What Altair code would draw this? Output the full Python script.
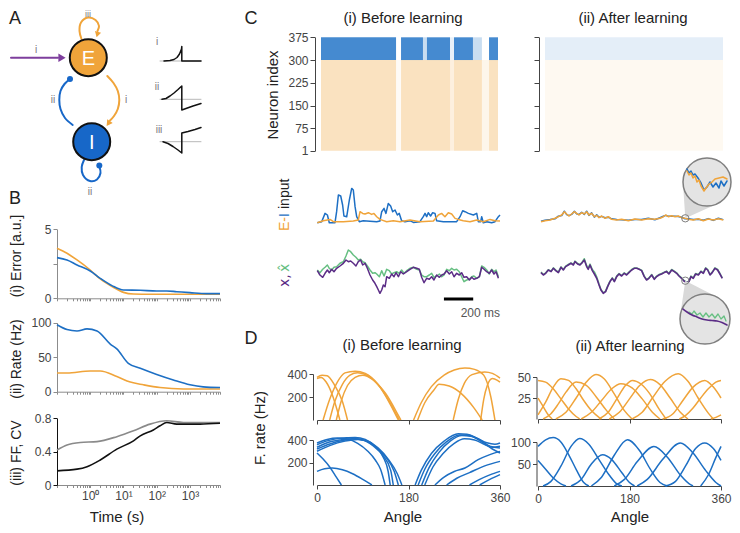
import altair as alt
import pandas as pd

W, H = 724, 517
FONT = "Liberation Sans"
ORANGE = "#F0A43A"
BLUE = "#1D6FC4"
NODE_BLUE = "#1767C8"
PURPLE = "#5B2C86"
GREEN = "#66BF82"
INPUT_PURPLE = "#7E3F9D"
TXT = "#222222"
AXC = "#444444"
LAXC = "#8C8C8C"

# ---------------- Panel B data ----------------
ERR_T_I = [0.1, 0.2, 0.4, 1, 2, 4.5, 10, 32, 100, 200, 398, 1000, 3162, 8000]
ERR_I = [2.95, 2.78, 2.42, 1.98, 1.45, 0.92, 0.60, 0.58, 0.53, 0.53, 0.48, 0.41, 0.34, 0.34]
ERR_T_E = [0.1, 0.2, 0.4, 1, 2, 4.5, 10, 20, 63, 8000]
ERR_E = [3.62, 3.26, 2.78, 2.05, 1.40, 0.85, 0.43, 0.31, 0.29, 0.29]
RATE_T_I = [0.1, 0.2, 0.4, 0.8, 1.6, 4, 6.3, 14, 32, 100, 316, 1000, 2500, 8000]
RATE_I = [97, 90, 88, 91, 88, 69, 62, 41, 34, 25, 17, 10, 7, 6]
RATE_T_E = [0.1, 0.2, 1, 2, 6.3, 16, 40, 126, 630, 8000]
RATE_E = [27, 27, 30, 30, 22, 14, 10, 6, 4, 4]
FF_T = [0.1, 0.2, 0.5, 1.6, 6.3, 20, 63, 200, 630, 8000]
FF = [0.42, 0.48, 0.51, 0.52, 0.58, 0.65, 0.73, 0.77, 0.75, 0.75]
CV_T = [0.1, 0.4, 0.8, 2, 6.3, 20, 32, 79, 126, 200, 400, 2000, 8000]
CV = [0.17, 0.19, 0.22, 0.30, 0.43, 0.53, 0.59, 0.66, 0.71, 0.75, 0.73, 0.73, 0.74]
B_DECADES = [1, 10, 100, 1000]
B_DECADE_LABELS = ["10⁰", "10¹", "10²", "10³"]
B_TICKS = [round(m * 10 ** k, 4) for k in range(-1, 4) for m in range(1, 10) if m * 10 ** k <= 8000]

# ---------------- Panel C raster (spike density, segments in ms) ----------------
E_NEURONS = (1, 300)
I_NEURONS = (300, 375)
RASTER_TICKS = [1, 75, 150, 225, 300, 375]
RB_I_START = [0, 527, 562, 716, 744, 906, 934, 1067, 1130, 1180]
RB_I_END = [527, 562, 716, 744, 906, 934, 1067, 1130, 1180, 1243]
RB_I_DENS = [0.85, 0.0, 0.85, 0.25, 0.85, 0.1, 0.85, 0.25, 0.0, 0.85]
RB_E_START = [0, 527, 562, 906, 934, 1130, 1180]
RB_E_END = [527, 562, 906, 934, 1130, 1180, 1243]
RB_E_DENS = [0.32, 0.04, 0.32, 0.16, 0.32, 0.1, 0.32]
RA_I_START, RA_I_END, RA_I_DENS = [0], [1250], [0.12]
RA_E_START, RA_E_END, RA_E_DENS = [0], [1250], [0.07]

# ---------------- Panel C traces ----------------
T_EI_B_I = [2, 32, 55, 71, 84, 123, 134, 146, 162, 175, 184, 203, 221, 237, 248, 260, 271, 289, 316, 408,
            430, 442, 458, 471, 487, 503, 517, 533, 549, 562, 578, 601, 635, 658, 703, 726, 738, 749, 760, 776,
            790, 806, 817, 863, 954, 977, 995, 1011, 1034, 1068, 1091, 1102, 1118, 1125, 1136, 1159, 1193, 1216, 1239, 1250]
EI_B_I = [0, 1, 9.3, 7.7, 0, 0, 11, 27.7, 26.7, 17.7, 6.7, 6, 22.7, 34.3, 32.7, 16, 6, 1, 2, 1,
          1.7, 11, 14.3, 9.3, 19.3, 16.7, 11, 12.7, 7.7, 9.3, 2, 1, 2, 0.3, 1, 6, 9.3, 6, 10, 6.7,
          10, 9.3, 2, 1, 1, 6, 12, 11, 9.3, 7.7, 9.3, 1, 1, 6, 0, 1, 0, 1, 6, 7.7]
T_EI_B_E = [2, 43, 89, 112, 180, 248, 282, 294, 312, 328, 351, 373, 389, 408, 430, 476, 521, 567, 635, 703,
            795, 829, 851, 874, 897, 920, 943, 965, 999, 1045, 1091, 1136, 1182, 1216, 1250]
EI_B_E = [0, 2, 3.3, 1, 1, 1.7, 2.7, 11, 9.3, 8.7, 10, 8.3, 9.3, 6, 3.3, 1, 2, 1, 2.7, 1,
          1.7, 7.7, 9.3, 6, 10, 8.7, 4.3, 3.3, 2, 1, 2.7, 1, 3.3, 2, 1.7]
T_X_B = [2, 20, 39, 55, 71, 84, 100, 116, 134, 157, 180, 198, 214, 230, 248, 266, 282, 298, 312, 328,
         344, 362, 380, 396, 408, 419, 430, 442, 453, 465, 476, 494, 510, 526, 540, 556, 572, 590, 613, 635,
         658, 681, 699, 715, 731, 749, 767, 783, 799, 817, 836, 852, 868, 886, 904, 920, 936, 954, 972, 988,
         1004, 1022, 1041, 1057, 1072, 1091, 1109, 1125, 1141, 1159, 1177, 1193, 1209, 1223, 1239]
X_B = [-0.7, -5, -7.3, -3.3, 0, -2.7, 0.7, -1.7, 1.7, 4, 6.7, 10, 8.3, 9, 6.7, 4, 8.3, 10, 5, 6.7,
       1.7, -5, -10, -13.3, -16.7, -20, -23.3, -20, -15, -16.7, -6.7, -8.3, -4, -6.7, -2.7, -6.7, -1.7, -4, -1.7, 0.7,
       2.7, 1.7, 0.7, -7.3, -12.7, -8.3, -9.3, -6.7, -10, -5, -7.3, -5, -4, -0.7, -4, -1.7, -6.7, -3.3, -5, -2.7,
       -7.3, -6.7, -10, -7.3, -9.3, -8.3, -6.7, 2.7, 0.7, -1.7, -3.3, 0, -4, -1.7, -8.3]
T_XH_B = [2, 20, 39, 55, 71, 84, 100, 116, 134, 157, 180, 198, 214, 230, 248, 266, 282, 298, 312, 328,
          344, 362, 380, 396, 408, 426, 442, 458, 476, 494, 510, 526, 544, 562, 578, 594, 613, 635, 658, 681,
          699, 715, 731, 749, 767, 783, 799, 817, 836, 852, 868, 886, 904, 920, 936, 954, 972, 988, 1004, 1022,
          1041, 1057, 1072, 1091, 1109, 1125, 1141, 1159, 1177, 1193, 1209, 1223, 1239]
XH_B = [0, -2.7, 0.7, 2.7, 5, 1.7, 0, 2.7, 3.3, 6.7, 8.3, 14, 20, 18.3, 15, 12.7, 10, 10.7, 8.3, 7.3,
        4, 0, -3.3, -2.7, -4, -6.7, -0.7, -6, 0.7, -0.7, -4, -2.7, -1.7, -3.3, 0, -3.3, -0.7, 1.7, 2.7, 0.7,
        0, -5, -6.7, -6.7, -5, -3.3, -7.3, -6, -4, -6.7, -5, 0.7, -0.7, 1.7, 0, 0.7, -1.7, -6.7, -11.7, -10,
        -9.3, -6.7, -6, -8.3, -6.7, 4, 2.7, 0, -4, 0.7, -1.7, 0, -6.7]
T_EI_A = [0, 27, 62, 96, 119, 142, 160, 176, 192, 210, 229, 244, 260, 279, 297, 313, 329, 347, 366, 382,
          398, 416, 439, 462, 484, 519, 553, 599, 644, 690, 736, 781, 816, 839, 855, 873, 896, 919, 941, 964,
          987, 1010, 1044, 1079, 1113, 1147, 1181, 1216, 1250]
EI_A_E = [-1.7, -0.7, 0, 1.7, 3.3, 5, 8.3, 6, 4, 6, 8.3, 6.7, 5, 7.3, 6, 8.3, 5, 6.7, 3.3, 4.7,
          2.3, 4, 1.7, 3.3, 0.7, 0, 0.7, -0.7, 1, 0, 1.3, 0.7, 1.7, 3.3, 5, 3.3, 4.3, 3.3, 4, 2.3,
          1.7, 0.7, 0, 1.3, -0.7, 1, 0, 1.3, 0]
EI_A_I = [-1.2, -0.2, 0.4, 1.2, 3.8, 4.4, 8.8, 5.4, 4.4, 5.6, 8.8, 6.2, 5.4, 7.8, 5.6, 8.8, 4.6, 7.2, 2.8, 5.2,
          2.8, 3.6, 2.2, 2.8, 1.2, 0.4, 0.2, -0.2, 0.6, 0.4, 1.8, 0.2, 2.2, 3.8, 4.6, 3.8, 3.8, 3.8, 3.6, 2.8,
          1.2, 1.2, 0.4, 0.8, -0.2, 1.4, -0.4, 1.8, 0.4]
T_X_A = [0, 16, 32, 50, 69, 85, 101, 119, 137, 153, 169, 187, 206, 222, 233, 251, 267, 283, 297, 313,
         324, 336, 352, 366, 382, 398, 411, 427, 443, 457, 473, 489, 503, 519, 535, 553, 571, 587, 603, 622,
         640, 656, 672, 690, 708, 724, 740, 759, 777, 793, 809, 827, 845, 861, 877, 896, 914, 930, 946, 964,
         980, 999, 1015, 1028, 1044, 1060, 1079, 1097, 1113, 1129, 1143, 1159, 1174, 1193, 1211, 1227, 1243]
X_A = [0.7, -1.7, 0, 3.3, 1.7, 5, 2.7, 0.7, 6, 3.3, 6.7, 8.3, 10, 8.3, 11.7, 9.3, 8.3, 10.7, 13.3, 6.7,
       4, 8.3, 2.7, -0.7, -5, -11.7, -16.7, -20, -18.3, -13.3, -8.3, -5, -8.3, -3.3, -0.7, -2.7, 0, -1.7, 0.7, 3.3,
       5, 5, 4, 2.7, -3.3, -6.7, -5, -1.7, -6, -3.3, -1.7, -0.7, 0.7, 1.7, -0.7, 3.3, 1.7, 0, -2.7, -5,
       -7.7, -9.3, -8.3, -3.3, -5, -0.7, -1.7, 1.7, 0, 5, 3.3, -1.7, 0.7, 5, 3.3, -0.7, -5]
XH_A = [1.2, -1.2, 0.4, 3.6, 2.2, 5.4, 3.2, 1.2, 6.4, 3.8, 7.2, 8.8, 10.4, 8.8, 12.2, 9.8, 8.8, 11.4, 14.6, 7.6,
        5.2, 9.2, 3.8, 1.4, -3.6, -10.8, -16.2, -19.6, -17.8, -12.8, -7.8, -4.6, -7.8, -2.8, -0.2, -2.2, 0.5, -1.2, 1.2, 3.8,
        5.4, 5.4, 4.4, 3.2, -2.8, -6.2, -4.6, -1.2, -5.6, -2.8, -1.2, -0.2, 1.2, 2.2, -0.2, 3.8, 2.2, 0.5, -2.2, -4.6,
        -7.2, -8.8, -7.8, -2.8, -4.6, -0.2, -1.2, 2.2, 0.5, 5.4, 3.8, -1.2, 1.2, 5.4, 3.8, -0.2, -4.6]
SCALEBAR_START = 867
SCALEBAR_MS = 200

# ---------------- Panel D tuning curves (angle deg, rate Hz) ----------------
D_BEFORE_E = [
    [(0, 370), (10, 390), (20, 385), (35, 300), (50, 160), (60, 0)],
    [(0, 360), (8, 370), (18, 330), (30, 220), (40, 80), (45, 0)],
    [(12, 0), (25, 180), (40, 330), (55, 410), (75, 425), (95, 405), (120, 310), (145, 130), (160, 0)],
    [(25, 0), (35, 160), (50, 310), (65, 390), (80, 410), (100, 385), (125, 280), (150, 100), (162, 0)],
    [(38, 0), (48, 170), (60, 300), (75, 370), (90, 390), (110, 350), (135, 230), (160, 40), (165, 0)],
    [(190, 0), (205, 150), (225, 290), (250, 390), (270, 435), (291, 452), (310, 440), (328, 390), (342, 200), (350, 0)],
    [(198, 0), (212, 150), (230, 260), (240, 310), (260, 295), (285, 225), (308, 110), (325, 0)],
    [(268, 0), (278, 180), (290, 320), (305, 395), (330, 418), (345, 405), (360, 365)],
    [(322, 0), (328, 180), (335, 300), (345, 360), (355, 345), (360, 330)],
]
D_AFTER_E = [
    [(0, 46), (15, 44), (30, 36), (45, 24), (60, 12), (75, 3), (82, 0)],
    [(278, 0), (290, 4), (305, 13), (320, 25), (335, 36), (350, 44), (360, 46)],
    [(0, 5), (15, 20), (30, 38), (45, 48), (60, 46), (75, 36), (90, 22), (105, 10), (120, 2), (125, 0)],
    [(340, 0), (350, 2), (360, 5)],
    [(10, 0), (25, 6), (40, 18), (55, 32), (75, 44), (95, 40), (115, 26), (135, 10), (150, 0)],
    [(35, 0), (55, 8), (75, 25), (95, 44), (114, 53), (130, 48), (150, 30), (170, 10), (185, 0)],
    [(85, 0), (105, 8), (125, 22), (145, 36), (163, 42), (185, 37), (205, 24), (225, 8), (240, 0)],
    [(120, 0), (138, 8), (155, 24), (172, 40), (186, 46), (202, 42), (220, 30), (238, 12), (252, 0)],
    [(140, 0), (160, 8), (180, 24), (200, 40), (221, 47), (240, 41), (260, 25), (280, 8), (295, 0)],
    [(185, 0), (205, 8), (225, 25), (250, 45), (276, 54), (295, 45), (315, 25), (335, 7), (345, 0)],
    [(245, 0), (265, 6), (285, 22), (305, 38), (328, 46), (345, 38), (360, 25)],
    [(0, 25), (10, 15), (20, 5), (28, 0)],
]
D_BEFORE_I = [
    [(0, 373), (20, 405), (40, 418), (60, 408), (80, 370), (100, 300), (115, 220), (125, 140), (134, 0)],
    [(0, 358), (20, 392), (40, 412), (60, 420), (75, 423), (95, 405), (115, 340), (130, 250), (140, 120), (144, 0)],
    [(0, 335), (20, 375), (45, 400), (70, 412), (90, 400), (110, 350), (130, 260), (145, 130), (150, 0)],
    [(0, 320), (25, 365), (50, 395), (75, 410), (95, 395), (115, 340), (135, 250), (152, 120), (160, 0)],
    [(0, 300), (25, 350), (55, 390), (80, 405), (100, 390), (120, 330), (140, 230), (158, 100), (167, 0)],
    [(0, 284), (12, 230), (25, 160), (38, 70), (48, 0)],
    [(0, 121), (15, 145), (30, 150), (50, 135), (70, 100), (90, 50), (108, 0)],
    [(193, 0), (205, 130), (225, 280), (250, 390), (278, 455), (295, 450), (315, 415), (334, 375), (350, 362), (360, 373)],
    [(199, 0), (212, 140), (232, 280), (255, 385), (280, 445), (300, 440), (320, 400), (340, 345), (360, 329)],
    [(206, 0), (220, 150), (240, 290), (262, 390), (285, 440), (305, 430), (325, 380), (345, 320), (360, 284)],
    [(212, 0), (228, 160), (248, 280), (270, 370), (290, 410), (310, 400), (330, 360), (345, 335), (360, 345)],
    [(232, 0), (250, 70), (270, 120), (291, 151), (317, 225), (340, 270), (360, 299)],
    [(255, 0), (275, 60), (300, 110), (330, 170), (360, 210)],
    [(300, 0), (320, 50), (340, 90), (360, 121)],
    [(320, 0), (340, 50), (360, 92)],
]
D_AFTER_I = [
    [(0, 90), (15, 105), (30, 110), (45, 100), (60, 72), (75, 38), (90, 8), (100, 0)],
    [(320, 0), (335, 25), (350, 65), (360, 90)],
    [(0, 58), (15, 38), (30, 18), (45, 5), (55, 0)],
    [(250, 0), (270, 10), (290, 45), (310, 85), (328, 98), (345, 85), (360, 58)],
    [(10, 0), (25, 10), (45, 45), (65, 90), (82, 108), (100, 95), (120, 60), (140, 25), (155, 5), (165, 0)],
    [(65, 0), (85, 15), (105, 50), (127, 71), (145, 60), (165, 30), (180, 8), (190, 0)],
    [(105, 0), (125, 20), (150, 70), (176, 105), (200, 80), (220, 40), (240, 8), (254, 0)],
    [(150, 0), (170, 15), (195, 55), (228, 90), (255, 65), (280, 25), (300, 3), (305, 0)],
    [(195, 0), (215, 15), (245, 60), (280, 98), (305, 75), (330, 35), (350, 8), (360, 0)],
]
ANGLE_TICKS = [0, 180, 360]

# ---------------- Panel A schematic (page pixel coordinates) ----------------
E_NODE = (88.3, 57.7)
I_NODE = (91.7, 141.7)
A_INPUT_X, A_INPUT_Y = [11, 58], [57.7, 57.7]
A_ELOOP_X = [81.5, 79.5, 81, 88, 95.5, 99, 97.5]
A_ELOOP_Y = [39, 31, 22.5, 17.5, 20, 26, 31]
A_EI_X = [107.3, 113.5, 117.8, 119.3, 117.8, 114, 110]
A_EI_Y = [76, 83, 91, 100, 109, 116, 120.5]
A_IE_X = [72.7, 65, 60.5, 59.3, 60.5, 64.5, 70]
A_IE_Y = [125, 118, 109, 100, 91, 84, 79]
A_ILOOP_X = [84, 81.7, 83, 90, 97, 100.5, 99.5]
A_ILOOP_Y = [160, 167, 175, 181, 179.5, 173, 167]
K_BASE_Y = [61, 99.3, 141.7]
K1_X = [164, 170, 174, 177, 179.5, 181.5, 181.8, 181.8, 201]
K1_Y = [61, 60.5, 59.5, 57.5, 54, 49, 46.5, 61, 61]
K2_X = [162, 166, 170, 174, 178, 181.8, 181.8, 186, 193, 201]
K2_Y = [99.3, 98.5, 96, 93, 89.5, 86, 110, 108.5, 106, 103.5]
K3_X = [163, 168, 173, 178, 181.8, 181.8, 188, 195, 201]
K3_Y = [141.7, 143.5, 146.5, 150, 153, 133, 131.5, 129.5, 127.5]

# inset magnifiers (page pixel coordinates)
INSET_TOP = (707, 182)
INSET_BOT = (705, 319)
INSET_TOP_SRC = (685.3, 218.3)
INSET_BOT_SRC = (685.3, 280.7)
CONE_TOP_X, CONE_TOP_Y, CONE_TOP_Y2 = [683.0, 685.3, 716.9], [183.6, 185.0, 203.9], [183.6, 218.3, 203.9]
CONE_BOT_X, CONE_BOT_Y, CONE_BOT_Y2 = [680.2, 685.3, 716.5], [315.4, 280.7, 296.8], [315.4, 312.8, 296.8]
INS_E_X = [687, 689, 691, 693, 695, 697, 699, 701, 704, 706, 709, 712, 715, 719, 723, 727]
INS_E_Y = [171, 175, 173, 178, 176, 182, 180, 186, 191, 188, 184, 182, 179, 178, 177, 179]
INS_I_X = [687, 689, 691, 693, 695, 698, 701, 704, 707, 710, 713, 716, 719, 721, 724, 727]
INS_I_Y = [169, 173, 171, 175, 174, 178, 183, 190, 187, 182, 187, 183, 188, 181, 186, 181]
INS_X_X = [683, 687, 692, 697, 702, 707, 712, 717, 722, 727]
INS_X_Y = [309, 312, 315, 317, 319, 320, 320.5, 321, 322.5, 325]
INS_XH_X = [689, 692, 694, 697, 700, 703, 706, 709, 712, 715, 718, 721, 724, 726]
INS_XH_Y = [312, 314, 311, 315, 313, 317, 313, 317, 314, 318, 314, 319, 316, 321]


# ================= helpers =================
def pg(v):
    return v - 8


def sc(dom, rng, log=False):
    kw = dict(domain=dom, range=[pg(rng[0]), pg(rng[1])], nice=False, zero=False)
    if log:
        kw["type"] = "log"
    return alt.Scale(**kw)


def ax_left(page_x, values, color=AXC, labels=True, label_expr=None, tick=4):
    kw = dict(orient="left", offset=-pg(page_x), values=values, title=None, grid=False,
              domainColor=color, tickColor=color, tickSize=tick, domainWidth=1, tickWidth=1,
              labels=labels, labelFont=FONT, labelFontSize=12, labelColor=AXC, labelPadding=2)
    if label_expr:
        kw["labelExpr"] = label_expr
    return alt.Axis(**kw)


def ax_bottom(page_y, values, color=AXC, labels=True, label_expr=None, tick=4):
    kw = dict(orient="bottom", offset=pg(page_y) - H, values=values, title=None, grid=False,
              domainColor=color, tickColor=color, tickSize=tick, domainWidth=1, tickWidth=1,
              labels=labels, labelFont=FONT, labelFontSize=12, labelColor=AXC, labelPadding=3,
              labelFlush=False, labelOverlap=False)
    if label_expr:
        kw["labelExpr"] = label_expr
    return alt.Axis(**kw)


def axes_panel(xsc=None, xax=None, ysc=None, yax=None, xval=0, yval=0):
    df = pd.DataFrame({"x": [xval], "y": [yval]})
    enc = {}
    if xsc is not None:
        enc["x"] = alt.X("x:Q", scale=xsc, axis=xax)
    if ysc is not None:
        enc["y"] = alt.Y("y:Q", scale=ysc, axis=yax)
    return alt.Chart(df).mark_point(opacity=0).encode(**enc)


def line(xs, ys, color, xsc, ysc, w=1.6, interp="monotone"):
    df = pd.DataFrame({"x": xs, "y": ys, "i": list(range(len(xs)))})
    return alt.Chart(df).mark_line(color=color, strokeWidth=w, interpolate=interp, strokeJoin="round").encode(
        x=alt.X("x:Q", scale=xsc, axis=None),
        y=alt.Y("y:Q", scale=ysc, axis=None),
        order="i:Q")


CX = alt.Scale(domain=[8, 732], range=[0, 724], nice=False, zero=False)
CY = alt.Scale(domain=[8, 525], range=[0, 517], nice=False, zero=False)


def cline(xs, ys, color, w=2.0, interp="linear"):
    df = pd.DataFrame({"x": xs, "y": ys, "i": list(range(len(xs)))})
    return alt.Chart(df).mark_line(color=color, strokeWidth=w, interpolate=interp,
                                   strokeCap="round", strokeJoin="round").encode(
        x=alt.X("x:Q", scale=CX, axis=None),
        y=alt.Y("y:Q", scale=CY, axis=None),
        order="i:Q")


def cpoint(xy, size, fill=None, stroke=None, sw=1.0, shape="circle", angle=0):
    df = pd.DataFrame({"x": [xy[0]], "y": [xy[1]]})
    kw = dict(shape=shape, size=size, opacity=1, angle=angle, filled=fill is not None)
    if fill is not None:
        kw["fill"] = fill
    if stroke:
        kw["stroke"] = stroke
        kw["strokeWidth"] = sw
    return alt.Chart(df).mark_point(**kw).encode(
        x=alt.X("x:Q", scale=CX, axis=None), y=alt.Y("y:Q", scale=CY, axis=None))


def ctext(x, y, s, size=15, color=TXT, angle=0, align="center", font=FONT):
    df = pd.DataFrame({"x": [x], "y": [y], "t": [s]})
    return alt.Chart(df).mark_text(align=align, baseline="middle", fontSize=size, color=color,
                                   angle=angle, font=font).encode(
        x=alt.X("x:Q", scale=CX, axis=None), y=alt.Y("y:Q", scale=CY, axis=None), text="t:N")


def carea(xs, ys, y2s, color):
    df = pd.DataFrame({"x": xs, "y": ys, "y2": y2s})
    return alt.Chart(df).mark_area(color=color, opacity=1).encode(
        x=alt.X("x:Q", scale=CX, axis=None), y=alt.Y("y:Q", scale=CY, axis=None), y2="y2:Q")


# ================= Panel B =================
dec_expr = " : ".join(f"datum.value == {v} ? '{l}'" for v, l in zip(B_DECADES, B_DECADE_LABELS)) + " : ''"
BX = sc([0.1, 8000], [57, 220], log=True)

b1y = sc([0, 5], [298.3, 229.3])
panel_b1 = alt.layer(line(ERR_T_E, ERR_E, ORANGE, BX, b1y), line(ERR_T_I, ERR_I, BLUE, BX, b1y))
axes_b1 = axes_panel(BX, ax_bottom(298.3, B_TICKS, LAXC, labels=False, tick=2.5),
                     b1y, ax_left(57, [0, 2.5, 5], LAXC, label_expr="datum.value == 2.5 ? '' : datum.label"),
                     xval=1, yval=0)
b2y = sc([0, 100], [391.7, 322.7])
panel_b2 = alt.layer(line(RATE_T_E, RATE_E, ORANGE, BX, b2y), line(RATE_T_I, RATE_I, BLUE, BX, b2y))
axes_b2 = axes_panel(BX, ax_bottom(391.7, B_TICKS, LAXC, labels=False, tick=2.5),
                     b2y, ax_left(57, [0, 50, 100], LAXC), xval=1, yval=0)
b3y = sc([0, 0.8], [485, 418.3])
panel_b3 = alt.layer(line(FF_T, FF, "#8A8A8A", BX, b3y), line(CV_T, CV, "#111111", BX, b3y))
axes_b3 = axes_panel(BX, ax_bottom(485, B_TICKS, LAXC, labels=True, label_expr=dec_expr, tick=2.5),
                     b3y, ax_left(57, [0, 0.4, 0.8], "#111111",
                                  label_expr="datum.value == 0 ? '0' : format(datum.value, '.1f')"),
                     xval=1, yval=0)

# ================= Panel C rasters =================
RASTER_Y = sc([1, 375], [150.7, 37.3])


def raster_panel(i_s, i_e, i_d, e_s, e_e, e_d, xr):
    xs = sc([0, 1250], xr)
    dfe = pd.DataFrame({"s": e_s, "e": e_e, "lo": [E_NEURONS[0]] * len(e_s),
                        "hi": [E_NEURONS[1]] * len(e_s), "d": e_d})
    dfi = pd.DataFrame({"s": i_s, "e": i_e, "lo": [I_NEURONS[0]] * len(i_s),
                        "hi": [I_NEURONS[1]] * len(i_s), "d": i_d})
    ce = alt.Chart(dfe).mark_rect(color=ORANGE).encode(
        x=alt.X("s:Q", scale=xs, axis=None), x2="e:Q",
        y=alt.Y("lo:Q", scale=RASTER_Y, axis=None),
        y2="hi:Q", opacity=alt.Opacity("d:Q", scale=None, legend=None))
    ci = alt.Chart(dfi).mark_rect(color="#2476C8").encode(
        x=alt.X("s:Q", scale=xs, axis=None), x2="e:Q",
        y=alt.Y("lo:Q", scale=RASTER_Y, axis=None),
        y2="hi:Q", opacity=alt.Opacity("d:Q", scale=None, legend=None))
    return alt.layer(ce, ci)


panel_rb = raster_panel(RB_I_START, RB_I_END, RB_I_DENS, RB_E_START, RB_E_END, RB_E_DENS, [321, 499])
panel_ra = raster_panel(RA_I_START, RA_I_END, RA_I_DENS, RA_E_START, RA_E_END, RA_E_DENS, [545, 723])
axes_rb = axes_panel(ysc=RASTER_Y, yax=ax_left(315, RASTER_TICKS, AXC, labels=True, tick=5), yval=1)
axes_ra = axes_panel(ysc=RASTER_Y, yax=ax_left(539, RASTER_TICKS, AXC, labels=False, tick=5), yval=1)

# ================= Panel C traces =================
TB_X = sc([0, 1250], [317, 500])
TA_X = sc([0, 1250], [541, 723.3])
EI_B_Y = sc([0, 40], [222.7, 182.7])
X_B_Y = sc([-30, 30], [300, 240])
EI_A_Y = sc([0, 40], [220, 180])
X_A_Y = sc([-30, 30], [303.3, 243.3])

panel_eib = alt.layer(
    line(T_EI_B_I, EI_B_I, BLUE, TB_X, EI_B_Y, w=1.5, interp="linear"),
    line(T_EI_B_E, EI_B_E, ORANGE, TB_X, EI_B_Y, w=1.5, interp="linear"),
)
sb = pd.DataFrame({"s": [SCALEBAR_START], "e": [SCALEBAR_START + SCALEBAR_MS], "y": [-29]})
panel_xb = alt.layer(
    line(T_XH_B, XH_B, GREEN, TB_X, X_B_Y, w=1.5, interp="linear"),
    line(T_X_B, X_B, PURPLE, TB_X, X_B_Y, w=1.5, interp="linear"),
    alt.Chart(sb).mark_rule(color="black", strokeWidth=3).encode(
        x=alt.X("s:Q", scale=TB_X, axis=None), x2="e:Q", y=alt.Y("y:Q", scale=X_B_Y, axis=None)),
)
panel_eia = alt.layer(
    line(T_EI_A, EI_A_I, BLUE, TA_X, EI_A_Y, w=1.5, interp="linear"),
    line(T_EI_A, EI_A_E, ORANGE, TA_X, EI_A_Y, w=1.5, interp="linear"),
)
panel_xa = alt.layer(
    line(T_X_A, XH_A, GREEN, TA_X, X_A_Y, w=1.5, interp="linear"),
    line(T_X_A, X_A, PURPLE, TA_X, X_A_Y, w=1.6, interp="linear"),
)


# ================= Panel D =================
def curves_panel(curves, color, xr, ydom, yr, x_axis_y, xlabels):
    rows = []
    for k, c in enumerate(curves):
        for j, (a, r) in enumerate(c):
            rows.append({"a": a, "r": r, "c": k, "j": j})
    df = pd.DataFrame(rows)
    return alt.Chart(df).mark_line(color=color, strokeWidth=1.5, interpolate="monotone").encode(
        x=alt.X("a:Q", scale=sc([0, 360], xr), axis=ax_bottom(x_axis_y, ANGLE_TICKS, AXC, labels=xlabels, tick=4)),
        y=alt.Y("r:Q", scale=sc(ydom, yr), axis=None),
        detail="c:N", order="j:Q")


def yaxis_panel(ydom, yr, page_x, values):
    return axes_panel(ysc=sc(ydom, yr), yax=ax_left(page_x, values, AXC, tick=4), yval=0)


panel_d1 = curves_panel(D_BEFORE_E, ORANGE, [317, 500], [0, 450], [420, 368.25], 420, False)
panel_d1a = yaxis_panel([0, 400], [420, 374], 313, [200, 400])
panel_d2 = curves_panel(D_BEFORE_I, BLUE, [317, 500], [0, 470], [485, 432.1], 485, True)
panel_d2a = yaxis_panel([0, 400], [485, 440], 313, [200, 400])
panel_d3 = curves_panel(D_AFTER_E, ORANGE, [538, 721], [0, 56], [419, 372], 419, False)
panel_d3a = yaxis_panel([0, 50], [419, 377], 536.5, [25, 50])
panel_d4 = curves_panel(D_AFTER_I, BLUE, [538, 721], [0, 115], [486, 435.4], 486, True)
panel_d4a = yaxis_panel([0, 100], [486, 442], 536.5, [50, 100])

# ================= Canvas: schematic, insets, text =================
canvas_layers = [
    # panel A schematic
    cline(A_INPUT_X, A_INPUT_Y, INPUT_PURPLE, w=2),
    cpoint((62, 57.7), 70, fill=INPUT_PURPLE, shape="triangle-right"),
    cline(A_ELOOP_X, A_ELOOP_Y, ORANGE, w=2, interp="catmull-rom"),
    cpoint((97.3, 34.5), 40, fill=ORANGE, shape="triangle-down", angle=15),
    cline(A_EI_X, A_EI_Y, ORANGE, w=2, interp="catmull-rom"),
    cpoint((108.3, 123.5), 45, fill=ORANGE, shape="triangle-down", angle=35),
    cline(A_IE_X, A_IE_Y, NODE_BLUE, w=2, interp="catmull-rom"),
    cpoint((70, 79), 36, fill=NODE_BLUE),
    cline(A_ILOOP_X, A_ILOOP_Y, NODE_BLUE, w=2, interp="catmull-rom"),
    cpoint((99.3, 165.5), 36, fill=NODE_BLUE),
    cpoint(E_NODE, 1369, fill=ORANGE, stroke="#111111", sw=2),
    cpoint(I_NODE, 1369, fill=NODE_BLUE, stroke="#111111", sw=2),
    ctext(E_NODE[0], E_NODE[1] + 1, "E", size=20, color="white"),
    ctext(I_NODE[0], I_NODE[1] + 1, "I", size=20, color="white"),
    cline([160, 201], [K_BASE_Y[0]] * 2, "#B8B8B8", w=1),
    cline([160, 201], [K_BASE_Y[1]] * 2, "#B8B8B8", w=1),
    cline([160, 201], [K_BASE_Y[2]] * 2, "#B8B8B8", w=1),
    cline(K1_X, K1_Y, "#111111", w=1.5),
    cline(K2_X, K2_Y, "#111111", w=1.5),
    cline(K3_X, K3_Y, "#111111", w=1.5),
    ctext(36, 49.5, "i", size=10, color="#777777"),
    ctext(88, 14, "iii", size=9, color="#777777"),
    ctext(126, 100, "i", size=10, color="#777777"),
    ctext(53, 100, "ii", size=10, color="#777777"),
    ctext(90, 192, "ii", size=10, color="#777777"),
    ctext(157, 42, "i", size=10, color="#777777"),
    ctext(157, 87, "ii", size=10, color="#777777"),
    ctext(159, 130, "iii", size=10, color="#777777"),
    # insets
    carea(CONE_TOP_X, CONE_TOP_Y, CONE_TOP_Y2, "#D9D9D9"),
    carea(CONE_BOT_X, CONE_BOT_Y, CONE_BOT_Y2, "#D9D9D9"),
    cpoint(INSET_TOP, 2304, fill="#E4E4E4", stroke="#7F7F7F", sw=1.5),
    cpoint(INSET_BOT, 2500, fill="#E4E4E4", stroke="#7F7F7F", sw=1.5),
    cline(INS_I_X, INS_I_Y, BLUE, w=1.5),
    cline(INS_E_X, INS_E_Y, ORANGE, w=1.5),
    cline(INS_XH_X, INS_XH_Y, GREEN, w=1.3),
    cline(INS_X_X, INS_X_Y, PURPLE, w=1.6, interp="monotone"),
    cpoint(INSET_TOP_SRC, 54, stroke="#7F7F7F", sw=1),
    cpoint(INSET_BOT_SRC, 54, stroke="#7F7F7F", sw=1),
    # panel letters and titles
    ctext(15, 19, "A", size=18),
    ctext(15, 199, "B", size=18),
    ctext(251, 19, "C", size=18),
    ctext(251, 339, "D", size=18),
    ctext(403, 18, "(i) Before learning", size=15),
    ctext(633, 18, "(ii) After learning", size=15),
    ctext(402, 345, "(i) Before learning", size=15),
    ctext(630, 346, "(ii) After learning", size=15),
    ctext(273, 95, "Neuron index", size=15, angle=270),
    ctext(260, 428, "F. rate (Hz)", size=15, angle=270),
    ctext(403, 517, "Angle", size=15),
    ctext(630, 517, "Angle", size=15),
    ctext(117, 517, "Time (s)", size=15),
    ctext(17, 256, "(i) Error [a.u.]", size=14, angle=270),
    ctext(17, 359, "(ii) Rate (Hz)", size=14, angle=270),
    ctext(17, 453, "(iii) FF, CV", size=14, angle=270),
    ctext(500, 312.5, "200 ms", size=12, color="#555555", align="right"),
    ctext(285, 231, "E-", size=14, color=ORANGE, angle=270, align="left"),
    ctext(285, 217, "I", size=14, color=BLUE, angle=270, align="left"),
    ctext(285, 209, "input", size=14, color=TXT, angle=270, align="left"),
    ctext(285, 287, "x,", size=14, color=PURPLE, angle=270, align="left", font="DejaVu Sans"),
    ctext(285, 272, "x\u0302", size=14, color=GREEN, angle=270, align="left", font="DejaVu Sans"),
]
canvas = alt.layer(*canvas_layers)

chart = alt.layer(
    panel_b1, axes_b1, panel_b2, axes_b2, panel_b3, axes_b3,
    panel_rb, axes_rb, panel_ra, axes_ra,
    panel_eib, panel_xb, panel_eia, panel_xa,
    panel_d1, panel_d1a, panel_d2, panel_d2a, panel_d3, panel_d3a, panel_d4, panel_d4a,
    canvas,
).resolve_scale(
    x="independent", y="independent"
).properties(
    width=W, height=H, autosize=alt.AutoSizeParams(type="none"), padding=0, background="white"
).configure_view(stroke=None)

chart.save("out.html", embed_options={"renderer": "svg", "actions": False})
